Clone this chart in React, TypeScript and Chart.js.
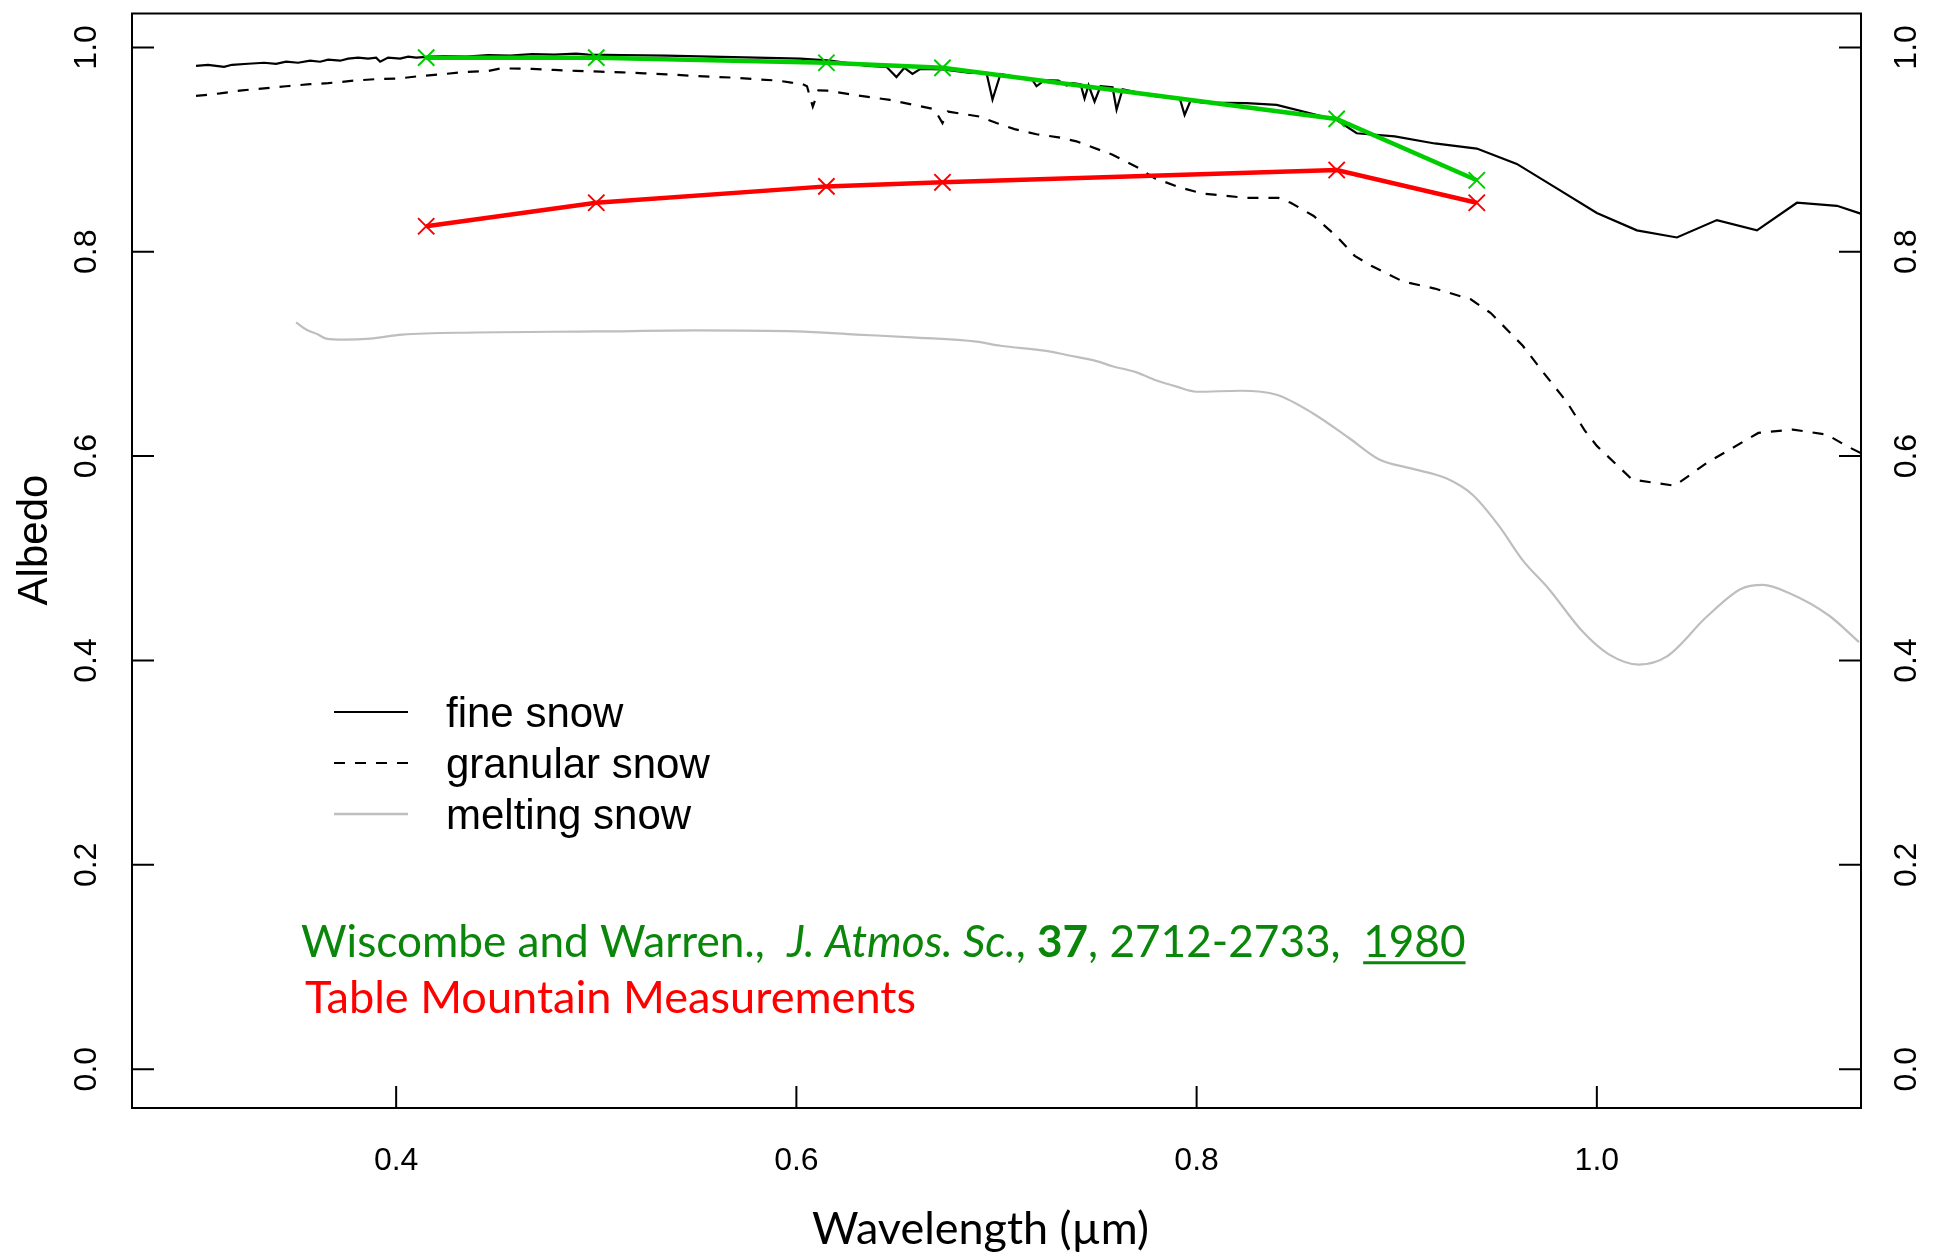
import React, { useEffect, useRef } from "react";
import { Chart, registerables } from "chart.js";

Chart.register(...registerables);

// ---------- data ----------
const fineSnowX = [
  0.300, 0.306, 0.310, 0.314, 0.318, 0.326, 0.334, 0.340, 0.345, 0.351, 0.357, 0.362, 0.366, 0.372,
  0.376, 0.381, 0.386, 0.390, 0.392, 0.396, 0.402, 0.406, 0.410, 0.417, 0.424, 0.435, 0.446, 0.457,
  0.468, 0.479, 0.490, 0.496, 0.513, 0.535, 0.557, 0.580, 0.602, 0.617, 0.6355, 0.645,
  0.650, 0.654, 0.658, 0.662, 0.673, 0.687, 0.695, 0.698, 0.702, 0.718, 0.720, 0.724, 0.731, 0.735,
  0.738, 0.742, 0.744, 0.746, 0.749, 0.752, 0.758, 0.760, 0.763, 0.780, 0.7916, 0.794, 0.797, 0.803,
  0.825, 0.840, 0.870, 0.880, 0.899, 0.919, 0.940, 0.960, 0.980, 1.000, 1.020, 1.040, 1.060, 1.080,
  1.100, 1.120, 1.140,
];
const fineSnowY = [
  0.982, 0.983, 0.982, 0.981, 0.983, 0.984, 0.985, 0.984, 0.986, 0.985, 0.987, 0.986, 0.988, 0.987,
  0.989, 0.990, 0.989, 0.990, 0.986, 0.990, 0.989, 0.991, 0.990, 0.991, 0.9915, 0.991, 0.9925, 0.992,
  0.9935, 0.993, 0.994, 0.993, 0.9925, 0.992, 0.991, 0.990, 0.989, 0.987, 0.982, 0.981,
  0.971, 0.980, 0.974, 0.979, 0.9785, 0.975, 0.975, 0.949, 0.974, 0.968, 0.962, 0.968, 0.9675, 0.9626,
  0.965, 0.964, 0.950, 0.963, 0.947, 0.962, 0.961, 0.939, 0.959, 0.952, 0.950, 0.934, 0.948, 0.946,
  0.9454, 0.9437, 0.929, 0.916, 0.913, 0.906, 0.901, 0.886, 0.862, 0.838, 0.821, 0.814, 0.831, 0.821,
  0.848, 0.845, 0.832,
];

const granularSnowX = [
  0.300, 0.312, 0.323, 0.334, 0.345, 0.357, 0.366, 0.379, 0.390, 0.401, 0.412, 0.424, 0.435, 0.446,
  0.4525, 0.468, 0.479, 0.490, 0.502, 0.513, 0.524, 0.535, 0.546, 0.557, 0.569, 0.580, 0.591, 0.5975,
  0.602, 0.6053, 0.6082, 0.611, 0.6154, 0.6288, 0.6467, 0.669, 0.673, 0.6757, 0.6913, 0.700, 0.709,
  0.720, 0.731, 0.740, 0.758, 0.771, 0.779, 0.7916, 0.803, 0.825, 0.841, 0.847, 0.8585, 0.870, 0.879,
  0.8875, 0.903, 0.919, 0.937, 0.947, 0.963, 0.974, 0.985, 0.994, 1.000, 1.0177, 1.039, 1.055, 1.0807,
  1.098, 1.115, 1.125, 1.135,
];
const granularSnowY = [
  0.9525, 0.955, 0.958, 0.960, 0.962, 0.964, 0.965, 0.9675, 0.969, 0.9695, 0.972, 0.974, 0.976, 0.977,
  0.9795, 0.979, 0.978, 0.977, 0.9763, 0.9756, 0.9746, 0.9737, 0.9724, 0.9714, 0.9704, 0.9688, 0.9675, 0.9655,
  0.965, 0.962, 0.942, 0.958, 0.9577, 0.9535, 0.9486, 0.9395, 0.926, 0.9372, 0.9324, 0.926, 0.920,
  0.915, 0.912, 0.908, 0.895, 0.882, 0.872, 0.863, 0.857, 0.8527, 0.8527, 0.848, 0.835, 0.815, 0.796,
  0.786, 0.771, 0.764, 0.7535, 0.740, 0.708, 0.680, 0.653, 0.625, 0.610, 0.577, 0.571, 0.5935, 0.6227,
  0.626, 0.621, 0.6097, 0.600,
];

const meltingSnowX = [
  0.350, 0.355, 0.361, 0.365, 0.374, 0.387, 0.403, 0.440, 0.500, 0.550, 0.600, 0.630, 0.660, 0.690,
  0.702, 0.725, 0.735, 0.750, 0.758, 0.770, 0.780, 0.790, 0.800, 0.822, 0.840, 0.858, 0.876, 0.891,
  0.907, 0.925, 0.938, 0.951, 0.963, 0.976, 0.993, 1.006, 1.021, 1.035, 1.055, 1.072, 1.083, 1.096,
  1.116, 1.131,
];
const meltingSnowY = [
  0.731, 0.724, 0.719, 0.715, 0.714, 0.715, 0.719, 0.721, 0.722, 0.723, 0.722, 0.719, 0.716, 0.712,
  0.708, 0.703, 0.699, 0.693, 0.688, 0.682, 0.674, 0.668, 0.663, 0.664, 0.660, 0.642, 0.618, 0.597,
  0.588, 0.578, 0.562, 0.532, 0.498, 0.470, 0.428, 0.406, 0.396, 0.404, 0.443, 0.470, 0.474, 0.466,
  0.444, 0.418,
];

const mfrsrWavelengths = [0.415, 0.5, 0.615, 0.673, 0.87, 0.94];
const wiscombeWarrenAlbedo = [0.990, 0.990, 0.985, 0.980, 0.930, 0.870];
const tableMountainAlbedo = [0.825, 0.848, 0.864, 0.868, 0.880, 0.848];

const xTickValues = [0.4, 0.6, 0.8, 1.0];
const yTickValues = [0.0, 0.2, 0.4, 0.6, 0.8, 1.0];
const legendLabels = ["fine snow", "granular snow", "melting snow"];

// ---------- layout / style ----------
const W = 1938;
const H = 1254;
const X_MIN = 0.268;
const X_MAX = 1.132;
const Y_MIN = -0.038;
const Y_MAX = 1.0332;
const HELV = "'Liberation Sans', Arial, Helvetica, sans-serif";
const CALI = "Lato, 'Open Sans', sans-serif";
const TICK_LEN = 22;
const GREEN_TEXT = "#0a870a";

function pts(xs: number[], ys: number[]) {
  return xs.map((x, i) => ({ x, y: ys[i] }));
}

type Seg = { text: string; style?: string; weight?: string; underline?: boolean };

function fontStr(s: Seg, size: number) {
  return `${s.style || "normal"} ${s.weight || "normal"} ${size}px ${CALI}`;
}

function drawSegs(ctx: CanvasRenderingContext2D, segs: Seg[], x: number, baseline: number, targetW: number, color: string) {
  let w100 = 0;
  segs.forEach((s) => {
    ctx.font = fontStr(s, 100);
    w100 += ctx.measureText(s.text).width;
  });
  const size = (100 * targetW) / w100;
  let cx = x;
  ctx.fillStyle = color;
  ctx.strokeStyle = color;
  ctx.textBaseline = "alphabetic";
  ctx.textAlign = "left";
  segs.forEach((s) => {
    ctx.font = fontStr(s, size);
    ctx.fillText(s.text, cx, baseline);
    const w = ctx.measureText(s.text).width;
    if (s.underline) {
      ctx.lineWidth = Math.max(2, size * 0.065);
      ctx.beginPath();
      ctx.moveTo(cx, baseline + size * 0.13);
      ctx.lineTo(cx + w, baseline + size * 0.13);
      ctx.stroke();
    }
    cx += w;
  });
}

const overlayPlugin = {
  id: "overlay",
  afterDraw(chart: any) {
    const { ctx, chartArea: a, scales } = chart;
    ctx.save();
    // frame
    ctx.strokeStyle = "#000";
    ctx.lineWidth = 2;
    ctx.strokeRect(a.left, a.top, a.right - a.left, a.bottom - a.top);
    // inward ticks
    ctx.beginPath();
    scales.x.ticks.forEach((t: any) => {
      const px = scales.x.getPixelForValue(t.value);
      ctx.moveTo(px, a.bottom);
      ctx.lineTo(px, a.bottom - TICK_LEN);
    });
    scales.y.ticks.forEach((t: any) => {
      const py = scales.y.getPixelForValue(t.value);
      ctx.moveTo(a.left, py);
      ctx.lineTo(a.left + TICK_LEN, py);
    });
    scales.y2.ticks.forEach((t: any) => {
      const py = scales.y2.getPixelForValue(t.value);
      ctx.moveTo(a.right, py);
      ctx.lineTo(a.right - TICK_LEN, py);
    });
    ctx.stroke();

    // legend
    const legendStyles = [
      { color: "#000", dash: [] as number[], width: 2.2 },
      { color: "#000", dash: [11, 10], width: 2.2 },
      { color: "#BEBEBE", dash: [] as number[], width: 2.6 },
    ];
    const rowY = [712, 763, 814];
    legendLabels.forEach((lab, i) => {
      const st = legendStyles[i];
      ctx.strokeStyle = st.color;
      ctx.lineWidth = st.width;
      ctx.setLineDash(st.dash);
      ctx.beginPath();
      ctx.moveTo(334, rowY[i]);
      ctx.lineTo(408, rowY[i]);
      ctx.stroke();
      ctx.setLineDash([]);
      ctx.fillStyle = "#000";
      ctx.font = `42px ${HELV}`;
      ctx.textAlign = "left";
      ctx.textBaseline = "alphabetic";
      ctx.fillText(lab, 446, rowY[i] + 15);
    });

    // annotations
    drawSegs(
      ctx,
      [
        { text: "Wiscombe and Warren.,  " },
        { text: "J. Atmos. Sc.", style: "italic" },
        { text: ", " },
        { text: "37", weight: "bold" },
        { text: ", 2712-2733,  " },
        { text: "1980", underline: true },
      ],
      301,
      957,
      1165,
      GREEN_TEXT
    );
    drawSegs(ctx, [{ text: "Table Mountain Measurements" }], 305, 1013, 611, "#FF0000");

    // x title
    {
      const t = "Wavelength (\u00b5m)";
      ctx.font = `100px ${CALI}`;
      const w100 = ctx.measureText(t).width;
      const size = (100 * 337) / w100;
      ctx.font = `${size}px ${CALI}`;
      ctx.fillStyle = "#000";
      ctx.textAlign = "center";
      ctx.textBaseline = "alphabetic";
      ctx.fillText(t, 980.5, 1244);
    }
    // y title
    ctx.save();
    ctx.translate(47, 540);
    ctx.rotate(-Math.PI / 2);
    ctx.font = `42px ${HELV}`;
    ctx.fillStyle = "#000";
    ctx.textAlign = "center";
    ctx.textBaseline = "alphabetic";
    ctx.fillText("Albedo", 0, 0);
    ctx.restore();

    ctx.restore();
  },
};

export default function App() {
  const ref = useRef<HTMLCanvasElement | null>(null);

  useEffect(() => {
    if (!ref.current) return;
    const tickFont = { family: HELV, size: 32 };
    const chart = new Chart(ref.current, {
      type: "line",
      data: {
        datasets: [
          {
            label: "Table Mountain Measurements",
            data: pts(mfrsrWavelengths, tableMountainAlbedo),
            borderColor: "#FF0000",
            backgroundColor: "#FF0000",
            borderWidth: 4.5,
            pointStyle: "crossRot",
            pointRadius: 11.5,
            pointBorderWidth: 2,
            pointBorderColor: "#FF0000",
            tension: 0,
            order: 0,
          },
          {
            label: "Wiscombe and Warren 1980",
            data: pts(mfrsrWavelengths, wiscombeWarrenAlbedo),
            borderColor: "#00CD00",
            backgroundColor: "#00CD00",
            borderWidth: 4.5,
            pointStyle: "crossRot",
            pointRadius: 11.5,
            pointBorderWidth: 2,
            pointBorderColor: "#00CD00",
            tension: 0,
            order: 1,
          },
          {
            label: "melting snow",
            data: pts(meltingSnowX, meltingSnowY),
            borderColor: "#BEBEBE",
            borderWidth: 2.2,
            pointRadius: 0,
            cubicInterpolationMode: "monotone",
            order: 2,
          },
          {
            label: "granular snow",
            data: pts(granularSnowX, granularSnowY),
            borderColor: "#000",
            borderWidth: 2.2,
            borderDash: [11, 10],
            pointRadius: 0,
            tension: 0,
            order: 3,
          },
          {
            label: "fine snow",
            data: pts(fineSnowX, fineSnowY),
            borderColor: "#000",
            borderWidth: 2.2,
            pointRadius: 0,
            tension: 0,
            order: 4,
          },
        ],
      },
      options: {
        responsive: false,
        animation: false,
        devicePixelRatio: 1,
        events: [],
        layout: { padding: { top: 10, left: 0, right: 0, bottom: 0 } },
        plugins: { legend: { display: false }, tooltip: { enabled: false } },
        scales: {
          x: {
            type: "linear",
            position: "bottom",
            min: X_MIN,
            max: X_MAX,
            grid: { display: false },
            border: { display: false },
            ticks: {
              font: tickFont,
              color: "#000",
              padding: 26,
              autoSkip: false,
              maxRotation: 0,
              minRotation: 0,
              callback: (v: any) => Number(v).toFixed(1),
            },
            afterBuildTicks: (s: any) => {
              s.ticks = xTickValues.map((v) => ({ value: v }));
            },
            afterFit: (s: any) => {
              s.height = 146;
              s.paddingLeft = 0;
              s.paddingRight = 0;
            },
          },
          y: {
            type: "linear",
            position: "left",
            min: Y_MIN,
            max: Y_MAX,
            grid: { display: false },
            border: { display: false },
            ticks: {
              font: tickFont,
              color: "#000",
              padding: 15,
              autoSkip: false,
              minRotation: 90,
              maxRotation: 90,
              crossAlign: "center",
              callback: (v: any) => Number(v).toFixed(1),
            },
            afterBuildTicks: (s: any) => {
              s.ticks = yTickValues.map((v) => ({ value: v }));
            },
            afterFit: (s: any) => {
              s.width = 132;
              s.paddingTop = 0;
              s.paddingBottom = 0;
            },
          },
          y2: {
            type: "linear",
            position: "right",
            min: Y_MIN,
            max: Y_MAX,
            grid: { display: false },
            border: { display: false },
            ticks: {
              font: tickFont,
              color: "#000",
              padding: 16,
              autoSkip: false,
              minRotation: 90,
              maxRotation: 90,
              crossAlign: "center",
              callback: (v: any) => Number(v).toFixed(1),
            },
            afterBuildTicks: (s: any) => {
              s.ticks = yTickValues.map((v) => ({ value: v }));
            },
            afterFit: (s: any) => {
              s.width = 77;
              s.paddingTop = 0;
              s.paddingBottom = 0;
            },
          },
        },
      } as any,
      plugins: [overlayPlugin],
    });
    return () => chart.destroy();
  }, []);

  return (
    <div style={{ position: "fixed", left: 0, top: 0, width: W, height: H, background: "#fff" }}>
      <canvas ref={ref} width={W} height={H} style={{ display: "block", width: W, height: H }} />
    </div>
  );
}
